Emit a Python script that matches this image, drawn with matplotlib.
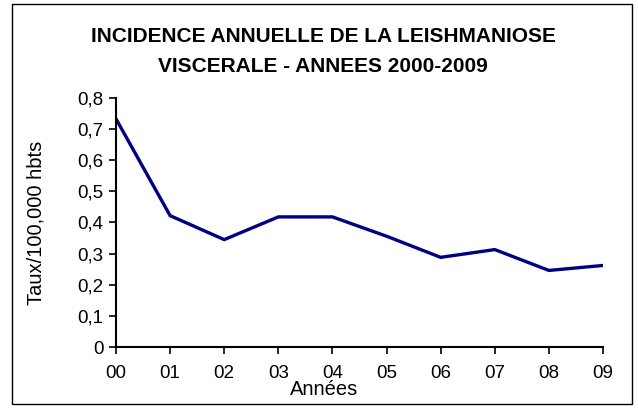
import matplotlib
matplotlib.use("Agg")
import matplotlib.pyplot as plt
from matplotlib.patches import Rectangle
from matplotlib.ticker import FuncFormatter

years = ["00", "01", "02", "03", "04", "05", "06", "07", "08", "09"]
rates = [0.733, 0.422, 0.345, 0.418, 0.418, 0.356, 0.288, 0.313, 0.246, 0.262]
yticks = [0, 0.1, 0.2, 0.3, 0.4, 0.5, 0.6, 0.7, 0.8]

plt.rcParams['font.family'] = ['Liberation Sans', 'DejaVu Sans']

W, H = 638, 408
fig = plt.figure(figsize=(W / 100, H / 100), dpi=100)
ax = fig.add_axes([116 / W, 1 - 347 / H, (603 - 116) / W, (347 - 98) / H])

x = list(range(len(years)))
ax.plot(x, rates, color="#000080", lw=2.4, solid_joinstyle="miter")

ax.set_xlim(0, len(years) - 1)
ax.set_ylim(0, 0.8)
ax.set_xticks(x)
ax.set_xticklabels(years)
ax.set_yticks(yticks)
ax.yaxis.set_major_formatter(FuncFormatter(lambda v, p: "0" if v == 0 else f"{v:.1f}".replace(".", ",")))
ax.tick_params(direction="out", length=5, width=1.2, labelsize=13.5, pad=4)
ax.tick_params(axis="x", pad=8)
for s in ["top", "right"]:
    ax.spines[s].set_visible(False)
for s in ["left", "bottom"]:
    ax.spines[s].set_linewidth(1.5)

fig.text(323 / W, 1 - 41.5 / H, "INCIDENCE ANNUELLE DE LA LEISHMANIOSE", ha="center", va="baseline",
         fontsize=15, fontweight="bold")
fig.text(323 / W, 1 - 71.5 / H, "VISCERALE - ANNEES 2000-2009", ha="center", va="baseline",
         fontsize=15, fontweight="bold")
fig.text(36 / W, 1 - 223 / H, "Taux/100,000 hbts", rotation=90, ha="center", va="center", fontsize=14.5)
fig.text(324 / W, 1 - 395 / H, "Années", ha="center", va="baseline", fontsize=14.5)

fig.patches.append(Rectangle((12 / W, 1 - 404 / H), 620 / W, 400 / H, transform=fig.transFigure,
                             fill=False, edgecolor="black", lw=1))

fig.savefig("out.png", dpi=100)
